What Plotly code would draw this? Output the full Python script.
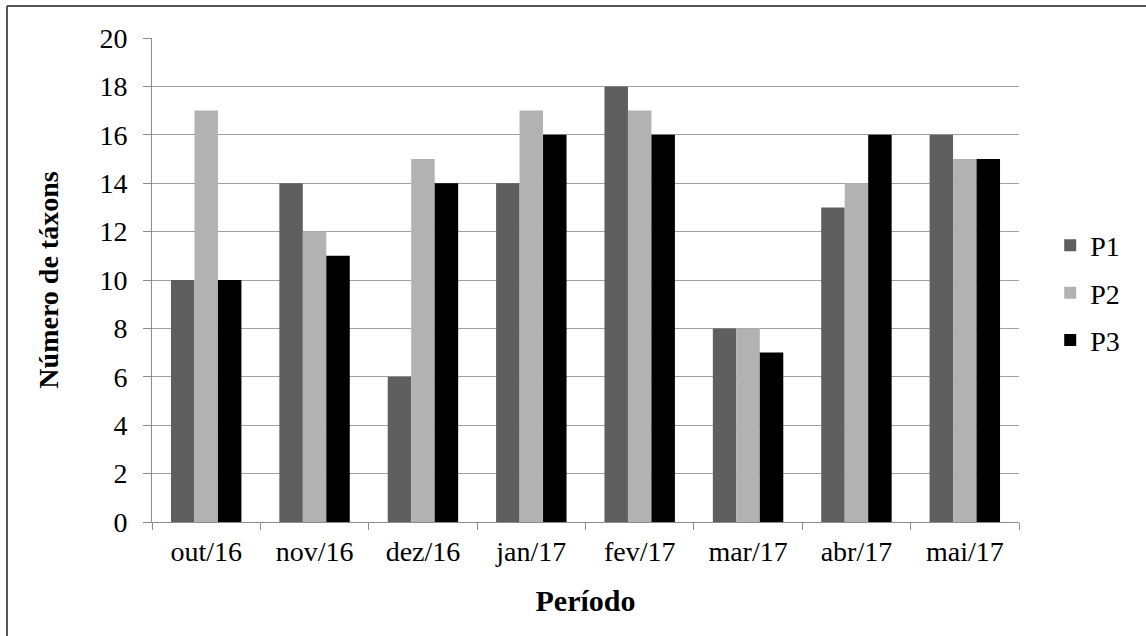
import plotly.graph_objects as go

categories = ["out/16", "nov/16", "dez/16", "jan/17", "fev/17", "mar/17", "abr/17", "mai/17"]
p1 = [10, 14, 6, 14, 18, 8, 13, 16]
p2 = [17, 12, 15, 17, 17, 8, 14, 15]
p3 = [10, 11, 14, 16, 16, 7, 16, 15]
y_ticks = [0, 2, 4, 6, 8, 10, 12, 14, 16, 18, 20]

FONT = "Liberation Serif, Times New Roman, serif"
W, H = 1146, 636
L, R, T, B = 152, 127, 38, 114
pw, ph = W - L - R, H - T - B

fig = go.Figure()
for name, vals, col in [("P1", p1, "#5f5f5f"), ("P2", p2, "#b2b2b2"), ("P3", p3, "#000000")]:
    fig.add_trace(go.Bar(name=name, x=categories, y=vals, legendgroup=name,
                         marker=dict(color=col, line=dict(width=0))))

fig.update_layout(
    width=W, height=H,
    margin=dict(l=L, r=R, t=T, b=B, autoexpand=False),
    paper_bgcolor="white", plot_bgcolor="white",
    barmode="group", bargap=0.35, bargroupgap=0,
    font=dict(family=FONT, size=28, color="black"),
    legend=dict(x=1.036, y=0.473, xanchor="left", yanchor="middle",
                font=dict(family=FONT, size=28), tracegroupgap=8,
                bgcolor="rgba(0,0,0,0)"),
    xaxis=dict(
        showline=True, linecolor="#8c8c8c", linewidth=1,
        ticks="outside", tickson="boundaries", ticklen=7, tickcolor="#8c8c8c",
        tickfont=dict(family=FONT, size=28), ticklabelstandoff=4,
        title=dict(text="<b>Período</b>", font=dict(family=FONT, size=30), standoff=24),
        showgrid=False,
    ),
    yaxis=dict(
        range=[0, 20], tickvals=y_ticks,
        showline=True, linecolor="#8c8c8c", linewidth=1,
        ticks="outside", ticklen=8, tickcolor="#8c8c8c",
        showgrid=True, gridcolor="#a0a0a0", gridwidth=1,
        tickfont=dict(family=FONT, size=28), ticklabelstandoff=10,
        title=dict(text="<b>Número de táxons</b>", font=dict(family=FONT, size=28), standoff=32),
        zeroline=False,
    ),
)

# outer frame (top and left edges visible)
x0 = (7 - L) / pw
y_top = (H - B - 6) / ph
fig.add_shape(type="line", xref="paper", yref="paper", x0=x0, x1=1.2, y0=y_top, y1=y_top,
              line=dict(color="#555555", width=2))
fig.add_shape(type="line", xref="paper", yref="paper", x0=x0, x1=x0, y0=y_top, y1=-0.3,
              line=dict(color="#555555", width=2))

fig.write_html("out.html", config={"displayModeBar": False},
               post_script="document.body.style.margin='0';")
